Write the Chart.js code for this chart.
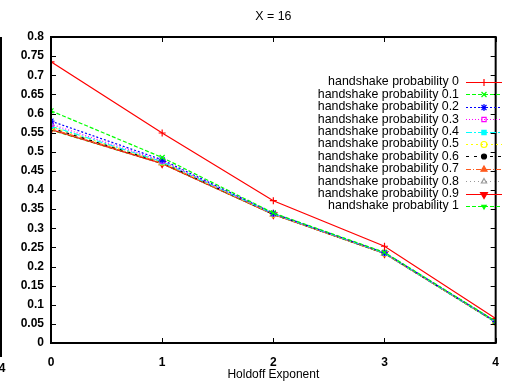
<!DOCTYPE html>
<html><head><meta charset="utf-8">
<script src="https://cdn.jsdelivr.net/npm/chart.js@4/dist/chart.umd.min.js"></script>
<style>html,body{margin:0;padding:0;background:#fff;}#wrap{width:511px;height:383px;position:relative;}</style>
</head><body><div id="wrap"><canvas id="c" width="511" height="383"></canvas></div>
<script>
const chartTitle = "X = 16";
const xTitle = "Holdoff Exponent";
const holdoff = [0, 1, 2, 3, 4];
const seriesLabels = ["handshake probability 0","handshake probability 0.1","handshake probability 0.2","handshake probability 0.3","handshake probability 0.4","handshake probability 0.5","handshake probability 0.6","handshake probability 0.7","handshake probability 0.8","handshake probability 0.9","handshake probability 1"];
const p00 = [0.735, 0.549, 0.372, 0.253, 0.064];
const p01 = [0.607, 0.485, 0.340, 0.237, 0.057];
const p02 = [0.580, 0.479, 0.339, 0.236, 0.056];
const p03 = [0.572, 0.476, 0.338, 0.236, 0.056];
const p04 = [0.567, 0.474, 0.338, 0.235, 0.055];
const p05 = [0.565, 0.473, 0.337, 0.235, 0.055];
const p06 = [0.562, 0.472, 0.337, 0.235, 0.055];
const p07 = [0.560, 0.471, 0.337, 0.235, 0.055];
const p08 = [0.559, 0.470, 0.336, 0.234, 0.055];
const p09 = [0.558, 0.469, 0.336, 0.234, 0.055];
const p10 = [0.557, 0.469, 0.336, 0.234, 0.054];
const seriesValues = [p00,p01,p02,p03,p04,p05,p06,p07,p08,p09,p10];
const yTickValues = [0,0.05,0.1,0.15,0.2,0.25,0.3,0.35,0.4,0.45,0.5,0.55,0.6,0.65,0.7,0.75,0.8];
const xTickValues = [0,1,2,3,4];

const colors = ['#ff0000','#00ff00','#0000ff','#ff00ff','#00ffff','#ffff00','#000000','#ff5a1e','#999999','#ff0000','#00ff00'];
const dashes = [[],[4,2],[2,2],[1,2],[6,2,2,2],[2,3],[3,5],[5,2,1,2],[1,3],[],[4,2]];
const pstyles = ['cross','crossRot','star','rect','rect','circle','circle','triangle','triangle','triangle','triangle'];
const pfill = [false,false,false,false,true,false,true,true,false,true,true];
const prot = [0,0,0,0,0,0,0,0,0,180,180];
const psize = [3.5,3.5,3.5,3,3,3,2.5,3.5,3,4,2.5];
const FONT = "'Liberation Sans', Arial, sans-serif";

const datasets = seriesValues.map((vals,i)=>({
  label: seriesLabels[i],
  data: vals.map((v,j)=>({x: holdoff[j], y: v})),
  borderColor: colors[i],
  backgroundColor: pfill[i] ? colors[i] : 'rgba(0,0,0,0)',
  pointBorderColor: colors[i],
  borderWidth: 1.2,
  borderDash: dashes[i],
  pointStyle: pstyles[i],
  pointRotation: prot[i],
  pointRadius: psize[i],
  pointBorderWidth: 1.2,
  tension: 0,
  fill: false
}));

const decor = {
  id: 'decor',
  afterDraw(chart){
    const ctx = chart.ctx, a = chart.chartArea;
    const xs = chart.scales.x, ys = chart.scales.y;
    ctx.save();
    ctx.fillStyle = '#000';
    ctx.font = '12.4px ' + FONT;
    ctx.textAlign = 'center'; ctx.textBaseline = 'middle';
    ctx.fillText(chartTitle, (a.left + a.right)/2, 17);
    ctx.strokeStyle = '#000'; ctx.lineWidth = 1;
    ctx.beginPath();
    yTickValues.forEach(v=>{
      const y = Math.round(ys.getPixelForValue(v)) + 0.5;
      ctx.moveTo(a.left, y); ctx.lineTo(a.left+5, y);
      ctx.moveTo(a.right, y); ctx.lineTo(a.right-5, y);
    });
    xTickValues.forEach(v=>{
      const x = Math.round(xs.getPixelForValue(v)) + 0.5;
      ctx.moveTo(x, a.bottom); ctx.lineTo(x, a.bottom-5);
      ctx.moveTo(x, a.top); ctx.lineTo(x, a.top+5);
    });
    ctx.stroke();
    ctx.lineWidth = 2;
    ctx.strokeRect(a.left, a.top, a.right - a.left, a.bottom - a.top);
    ctx.beginPath(); ctx.moveTo(1, a.top); ctx.lineTo(1, a.bottom+14); ctx.stroke();
    ctx.font = 'bold 12px ' + FONT; ctx.textAlign = 'center';
    ctx.fillText('4', 2, 369);
    ctx.font = '12.4px ' + FONT;
    chart.data.datasets.forEach((ds,i)=>{
      const y = 82 + i*12.4;
      ctx.fillStyle = '#000'; ctx.textAlign = 'right'; ctx.textBaseline = 'middle';
      ctx.fillText(ds.label, 459, y);
      ctx.strokeStyle = ds.borderColor; ctx.lineWidth = 1.2;
      ctx.setLineDash(ds.borderDash);
      ctx.beginPath(); ctx.moveTo(466, Math.round(y)+0.5); ctx.lineTo(502, Math.round(y)+0.5); ctx.stroke();
      ctx.setLineDash([]);
      ctx.fillStyle = ds.backgroundColor;
      Chart.helpers.drawPoint(ctx, {pointStyle: ds.pointStyle, rotation: ds.pointRotation, radius: ds.pointRadius, borderWidth: 1.2}, 484, Math.round(y)+0.5);
    });
    ctx.restore();
  }
};

new Chart(document.getElementById('c'), {
  type: 'line',
  data: { datasets },
  options: {
    responsive: false,
    animation: false,
    devicePixelRatio: 1,
    layout: { padding: { left: 0, right: 3, top: 37, bottom: 0 } },
    plugins: { legend: { display: false }, tooltip: { enabled: false }, title: { display: false } },
    scales: {
      x: {
        type: 'linear', min: 0, max: 4,
        afterBuildTicks: s => { s.ticks = xTickValues.map(v=>({value: v})); },
        afterFit: s => { s.height = 40; },
        grid: { display: false, drawTicks: false },
        border: { display: false },
        ticks: { color: '#000', font: { family: FONT, size: 12, weight: 'bold' }, padding: 12, maxRotation: 0, callback: v => String(v) },
        title: { display: true, text: xTitle, color: '#000', font: { family: FONT, size: 12 }, padding: { top: 0, bottom: 1 } }
      },
      y: {
        type: 'linear', min: 0, max: 0.8,
        afterBuildTicks: s => { s.ticks = yTickValues.map(v=>({value: v})); },
        afterFit: s => { s.width = 51; },
        grid: { display: false, drawTicks: false },
        border: { display: false },
        ticks: { color: '#000', font: { family: FONT, size: 12, weight: 'bold' }, padding: 7, callback: v => String(+v.toFixed(2)) }
      }
    }
  },
  plugins: [decor]
});
</script></body></html>
